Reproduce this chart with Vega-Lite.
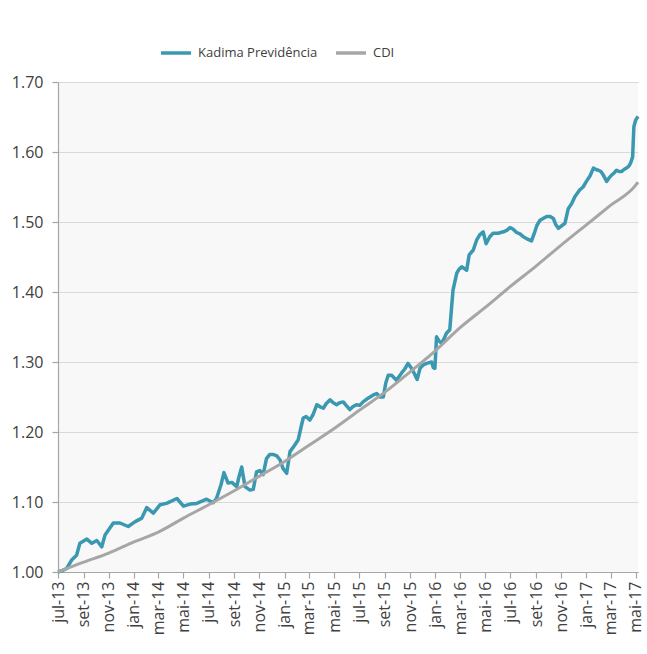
{
  "$schema": "https://vega.github.io/schema/vega-lite/v6.json",
  "width": 580,
  "height": 490,
  "autosize": "none",
  "padding": {"left": 58, "top": 82, "right": 9, "bottom": 82},
  "background": "white",
  "config": {
    "view": {"fill": "#f8f8f8", "stroke": null},
    "font": "Open Sans",
    "axis": {"labelFont": "Open Sans", "labelFontSize": 16, "labelColor": "#404040", "domainColor": "#a6a6a6", "tickColor": "#a6a6a6", "domainWidth": 1.2, "tickWidth": 1.2}
  },
  "datasets": {
    "kadima": [
      {"date": "2013-07-01", "value": 1.000}, {"date": "2013-07-11", "value": 1.002}, {"date": "2013-07-22", "value": 1.005},
      {"date": "2013-08-03", "value": 1.017}, {"date": "2013-08-15", "value": 1.024}, {"date": "2013-08-23", "value": 1.041},
      {"date": "2013-09-09", "value": 1.047}, {"date": "2013-09-21", "value": 1.041}, {"date": "2013-10-03", "value": 1.045},
      {"date": "2013-10-15", "value": 1.036}, {"date": "2013-10-23", "value": 1.053}, {"date": "2013-11-12", "value": 1.070},
      {"date": "2013-11-28", "value": 1.070}, {"date": "2013-12-18", "value": 1.065}, {"date": "2014-01-04", "value": 1.072},
      {"date": "2014-01-20", "value": 1.077}, {"date": "2014-02-01", "value": 1.092}, {"date": "2014-02-17", "value": 1.084},
      {"date": "2014-03-05", "value": 1.096}, {"date": "2014-03-21", "value": 1.098}, {"date": "2014-04-15", "value": 1.105},
      {"date": "2014-05-01", "value": 1.094}, {"date": "2014-05-17", "value": 1.097}, {"date": "2014-06-02", "value": 1.098},
      {"date": "2014-06-26", "value": 1.104}, {"date": "2014-07-12", "value": 1.099}, {"date": "2014-07-20", "value": 1.105},
      {"date": "2014-07-31", "value": 1.125}, {"date": "2014-08-07", "value": 1.142}, {"date": "2014-08-17", "value": 1.127},
      {"date": "2014-08-26", "value": 1.128}, {"date": "2014-09-07", "value": 1.122}, {"date": "2014-09-12", "value": 1.135},
      {"date": "2014-09-19", "value": 1.150}, {"date": "2014-09-27", "value": 1.122}, {"date": "2014-10-09", "value": 1.117},
      {"date": "2014-10-17", "value": 1.118}, {"date": "2014-10-25", "value": 1.143}, {"date": "2014-11-02", "value": 1.145},
      {"date": "2014-11-10", "value": 1.139}, {"date": "2014-11-18", "value": 1.162}, {"date": "2014-11-26", "value": 1.168},
      {"date": "2014-12-04", "value": 1.168}, {"date": "2014-12-13", "value": 1.166}, {"date": "2014-12-21", "value": 1.160},
      {"date": "2014-12-28", "value": 1.148}, {"date": "2015-01-06", "value": 1.141}, {"date": "2015-01-14", "value": 1.172},
      {"date": "2015-01-24", "value": 1.180}, {"date": "2015-02-03", "value": 1.189}, {"date": "2015-02-09", "value": 1.205},
      {"date": "2015-02-15", "value": 1.220}, {"date": "2015-02-22", "value": 1.222}, {"date": "2015-03-03", "value": 1.217},
      {"date": "2015-03-11", "value": 1.225}, {"date": "2015-03-20", "value": 1.239}, {"date": "2015-03-28", "value": 1.236},
      {"date": "2015-04-05", "value": 1.234}, {"date": "2015-04-11", "value": 1.240}, {"date": "2015-04-21", "value": 1.246},
      {"date": "2015-04-28", "value": 1.242}, {"date": "2015-05-07", "value": 1.239}, {"date": "2015-05-15", "value": 1.242},
      {"date": "2015-05-23", "value": 1.243}, {"date": "2015-05-30", "value": 1.238}, {"date": "2015-06-08", "value": 1.232},
      {"date": "2015-06-15", "value": 1.236}, {"date": "2015-06-24", "value": 1.239}, {"date": "2015-07-02", "value": 1.238},
      {"date": "2015-07-10", "value": 1.243}, {"date": "2015-07-19", "value": 1.247}, {"date": "2015-07-27", "value": 1.250},
      {"date": "2015-08-04", "value": 1.253}, {"date": "2015-08-12", "value": 1.255}, {"date": "2015-08-20", "value": 1.250},
      {"date": "2015-08-28", "value": 1.250}, {"date": "2015-09-03", "value": 1.270}, {"date": "2015-09-09", "value": 1.281},
      {"date": "2015-09-17", "value": 1.281}, {"date": "2015-09-29", "value": 1.274}, {"date": "2015-10-11", "value": 1.284},
      {"date": "2015-10-19", "value": 1.290}, {"date": "2015-10-27", "value": 1.298}, {"date": "2015-11-03", "value": 1.292},
      {"date": "2015-11-09", "value": 1.286}, {"date": "2015-11-18", "value": 1.275}, {"date": "2015-11-25", "value": 1.291},
      {"date": "2015-12-03", "value": 1.296}, {"date": "2015-12-11", "value": 1.298}, {"date": "2015-12-23", "value": 1.300},
      {"date": "2015-12-27", "value": 1.292}, {"date": "2015-12-31", "value": 1.291}, {"date": "2016-01-04", "value": 1.336},
      {"date": "2016-01-10", "value": 1.330}, {"date": "2016-01-16", "value": 1.327}, {"date": "2016-01-22", "value": 1.333},
      {"date": "2016-01-28", "value": 1.341}, {"date": "2016-02-05", "value": 1.346}, {"date": "2016-02-09", "value": 1.375},
      {"date": "2016-02-13", "value": 1.403}, {"date": "2016-02-22", "value": 1.427}, {"date": "2016-02-27", "value": 1.432},
      {"date": "2016-03-05", "value": 1.436}, {"date": "2016-03-10", "value": 1.434}, {"date": "2016-03-17", "value": 1.431},
      {"date": "2016-03-23", "value": 1.453}, {"date": "2016-04-02", "value": 1.460}, {"date": "2016-04-10", "value": 1.474},
      {"date": "2016-04-18", "value": 1.482}, {"date": "2016-04-26", "value": 1.486}, {"date": "2016-05-03", "value": 1.469},
      {"date": "2016-05-12", "value": 1.479}, {"date": "2016-05-20", "value": 1.484}, {"date": "2016-06-01", "value": 1.484},
      {"date": "2016-06-14", "value": 1.486}, {"date": "2016-06-22", "value": 1.488}, {"date": "2016-06-30", "value": 1.492},
      {"date": "2016-07-07", "value": 1.490}, {"date": "2016-07-16", "value": 1.485}, {"date": "2016-07-24", "value": 1.483},
      {"date": "2016-08-01", "value": 1.479}, {"date": "2016-08-10", "value": 1.476}, {"date": "2016-08-21", "value": 1.473},
      {"date": "2016-08-29", "value": 1.486}, {"date": "2016-09-03", "value": 1.495}, {"date": "2016-09-10", "value": 1.502},
      {"date": "2016-09-18", "value": 1.505}, {"date": "2016-09-27", "value": 1.508}, {"date": "2016-10-05", "value": 1.508},
      {"date": "2016-10-13", "value": 1.505}, {"date": "2016-10-19", "value": 1.496}, {"date": "2016-10-25", "value": 1.491},
      {"date": "2016-11-03", "value": 1.495}, {"date": "2016-11-10", "value": 1.498}, {"date": "2016-11-18", "value": 1.519},
      {"date": "2016-11-27", "value": 1.527}, {"date": "2016-12-04", "value": 1.536}, {"date": "2016-12-16", "value": 1.546},
      {"date": "2016-12-24", "value": 1.550}, {"date": "2017-01-01", "value": 1.558}, {"date": "2017-01-10", "value": 1.566},
      {"date": "2017-01-18", "value": 1.577}, {"date": "2017-01-24", "value": 1.575}, {"date": "2017-01-30", "value": 1.574},
      {"date": "2017-02-05", "value": 1.572}, {"date": "2017-02-11", "value": 1.567}, {"date": "2017-02-19", "value": 1.558},
      {"date": "2017-02-25", "value": 1.563}, {"date": "2017-03-03", "value": 1.567}, {"date": "2017-03-09", "value": 1.570},
      {"date": "2017-03-15", "value": 1.574}, {"date": "2017-03-21", "value": 1.572}, {"date": "2017-03-27", "value": 1.572},
      {"date": "2017-04-02", "value": 1.575}, {"date": "2017-04-08", "value": 1.577}, {"date": "2017-04-14", "value": 1.580},
      {"date": "2017-04-18", "value": 1.584}, {"date": "2017-04-23", "value": 1.593}, {"date": "2017-04-26", "value": 1.636},
      {"date": "2017-04-30", "value": 1.645}, {"date": "2017-05-03", "value": 1.648}, {"date": "2017-05-06", "value": 1.651}
    ],
    "cdi": [
      {"date": "2013-07-01", "value": 1.000}, {"date": "2013-09-01", "value": 1.014}, {"date": "2013-11-01", "value": 1.027},
      {"date": "2014-01-01", "value": 1.043}, {"date": "2014-03-01", "value": 1.057}, {"date": "2014-05-01", "value": 1.077},
      {"date": "2014-07-01", "value": 1.096}, {"date": "2014-09-01", "value": 1.116}, {"date": "2014-11-01", "value": 1.137},
      {"date": "2015-01-01", "value": 1.158}, {"date": "2015-03-01", "value": 1.181}, {"date": "2015-05-01", "value": 1.205},
      {"date": "2015-07-01", "value": 1.231}, {"date": "2015-09-01", "value": 1.257}, {"date": "2015-11-01", "value": 1.286},
      {"date": "2016-01-01", "value": 1.316}, {"date": "2016-03-01", "value": 1.349}, {"date": "2016-05-01", "value": 1.378},
      {"date": "2016-07-01", "value": 1.408}, {"date": "2016-09-01", "value": 1.437}, {"date": "2016-11-01", "value": 1.467},
      {"date": "2017-01-01", "value": 1.496}, {"date": "2017-03-01", "value": 1.524}, {"date": "2017-05-01", "value": 1.553},
      {"date": "2017-05-06", "value": 1.557}
    ]
  },
  "encoding": {
    "x": {
      "field": "date",
      "type": "temporal",
      "scale": {"type": "utc", "nice": false, "domain": [{"year": 2013, "month": 7, "date": 1, "utc": true}, {"year": 2017, "month": 5, "date": 6, "utc": true}]},
      "axis": {
        "title": null,
        "grid": false,
        "tickCount": {"interval": "month", "step": 2},
        "labelAngle": -90,
        "labelExpr": "['jan','fev','mar','abr','mai','jun','jul','ago','set','out','nov','dez'][utcmonth(datum.value)] + '-' + utcFormat(datum.value, '%y')",
        "tickSize": 6,
        "labelPadding": 3,
        "labelOverlap": false,
        "labelBound": false,
        "labelFlush": false
      }
    },
    "y": {
      "field": "value",
      "type": "quantitative",
      "scale": {"domain": [1.0, 1.7], "nice": false, "zero": false},
      "axis": {
        "title": null,
        "values": [1.0, 1.1, 1.2, 1.3, 1.4, 1.5, 1.6, 1.7],
        "format": ".2f",
        "grid": true,
        "gridColor": "#d9d9d9",
        "gridWidth": 1.2,
        "tickSize": 6,
        "labelPadding": 9
      }
    }
  },
  "layer": [
    {
      "data": {"name": "kadima"},
      "mark": {"type": "line", "strokeWidth": 3.5, "strokeJoin": "round"},
      "encoding": {
        "color": {
          "datum": "Kadima Previdência",
          "scale": {"domain": ["Kadima Previdência", "CDI"], "range": ["#3a98b1", "#a6a6a6"]},
          "legend": {
            "orient": "none",
            "legendX": 101,
            "legendY": -46,
            "direction": "horizontal",
            "title": null,
            "symbolType": "stroke",
            "symbolSize": 900,
            "symbolStrokeWidth": 3.5,
            "labelFont": "Open Sans",
            "labelFontSize": 13,
            "labelColor": "#404040",
            "labelOffset": 5,
            "columnPadding": 11
          }
        }
      }
    },
    {
      "data": {"name": "cdi"},
      "mark": {"type": "line", "strokeWidth": 3, "interpolate": "monotone"},
      "encoding": {"color": {"datum": "CDI"}}
    }
  ]
}
